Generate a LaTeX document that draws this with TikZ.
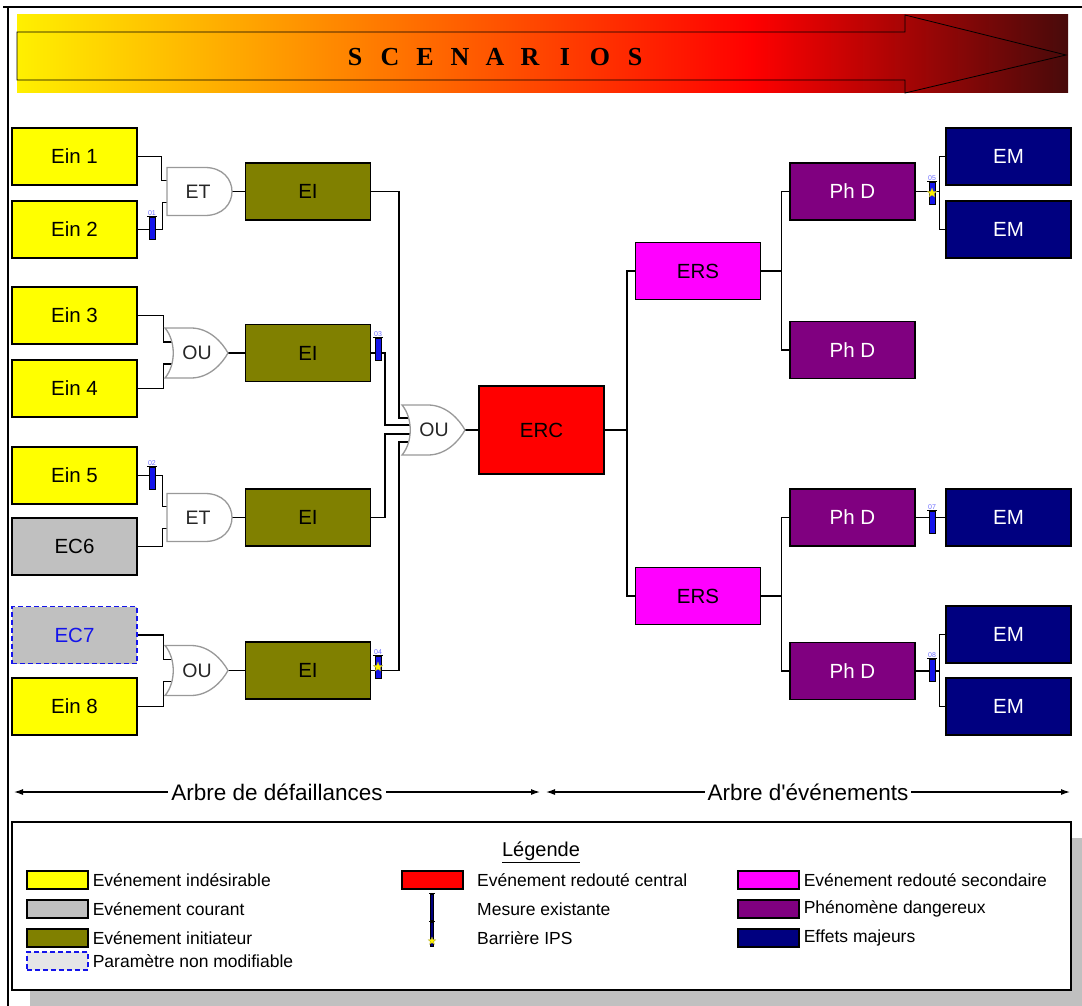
\documentclass[tikz,border=0pt]{standalone}
\usepackage{fontspec}
\setmainfont{Liberation Sans}
\newfontfamily\bannerserif{Liberation Serif}
\usetikzlibrary{shapes.geometric,arrows.meta,calc}

\definecolor{cYel}{RGB}{255,255,0}
\definecolor{cGray}{RGB}{192,192,192}
\definecolor{cLight}{RGB}{230,230,230}
\definecolor{cOlive}{RGB}{128,128,0}
\definecolor{cRed}{RGB}{255,0,0}
\definecolor{cMag}{RGB}{255,0,255}
\definecolor{cPur}{RGB}{128,0,128}
\definecolor{cNavy}{RGB}{0,0,128}
\definecolor{cBlue}{RGB}{20,20,235}
\definecolor{cBarLbl}{RGB}{110,110,255}
\definecolor{cBanA}{RGB}{255,240,0}
\definecolor{cBanB}{RGB}{255,160,0}
\definecolor{cBanC}{RGB}{255,0,0}
\definecolor{cBanD}{RGB}{72,10,10}

\pgfdeclarelayer{wires}
\pgfsetlayers{wires,main}

% AND gate: name, x of flat back, y of centre
\newcommand{\ETgate}[3]{%
  \coordinate (#1-in1) at (#2+4,#3-11);
  \coordinate (#1-in2) at (#2+4,#3+11);
  \coordinate (#1-out) at (#2+65,#3);
  \draw[gatebody] (#2,#3-24) -- (#2+38,#3-24)
     .. controls (#2+74,#3-24) and (#2+74,#3+24) .. (#2+38,#3+24)
     -- (#2,#3+24) -- cycle;
  \node[gatetext] (#1) at (#2+31,#3) {ET};
}
% OR gate: name, x of curved back, y of centre
\newcommand{\OUgate}[3]{%
  \coordinate (#1-in1) at (#2+9,#3-11);
  \coordinate (#1-in2) at (#2+9,#3+11);
  \coordinate (#1-out) at (#2+63,#3);
  \draw[gatebody] (#2,#3-25) -- (#2+26,#3-25)
     .. controls (#2+44,#3-25) and (#2+57,#3-11) .. (#2+63,#3)
     .. controls (#2+57,#3+11) and (#2+44,#3+25) .. (#2+26,#3+25)
     -- (#2,#3+25)
     .. controls (#2+11,#3+12) and (#2+11,#3-12) .. (#2,#3-25) -- cycle;
  \node[gatetext] (#1) at (#2+32,#3) {OU};
}
% existing safety measure: name, x, y, number
\newcommand{\safetybar}[4]{%
  \node[barrierbox] (#1) at (#2,#3) {};
  \draw[line width=1.2pt] ([xshift=-5pt]#1.north) -- ([xshift=5pt]#1.north);
  \node[barlabel] (#1-lbl) at ([yshift=1pt]#1.north) {#4};
}
% IPS barrier: same symbol with a star
\newcommand{\safetyips}[4]{%
  \safetybar{#1}{#2}{#3}{#4}%
  \node[ipsstar] (#1-star) at (#1.center) {};
}

\begin{document}
\begin{tikzpicture}[x=1pt,y=-1pt,
  wire/.style={draw=black,line width=1.5pt},
  evt/.style={draw=black,line width=1.3pt,minimum width=125pt,minimum height=57pt,
    inner sep=0pt,font=\fontsize{20.5}{23}\selectfont},
  undesired/.style={evt,fill=cYel},
  current/.style={evt,fill=cGray},
  fixedparam/.style={evt,fill=cGray,draw=cBlue,dash pattern=on 5pt off 3pt,text=cBlue},
  initiator/.style={evt,fill=cOlive},
  central/.style={evt,fill=cRed,minimum height=88pt},
  secondary/.style={evt,fill=cMag},
  hazard/.style={evt,fill=cPur,text=white},
  major/.style={evt,fill=cNavy,text=white},
  gatebody/.style={draw=black!40,fill=white,line width=1.3pt},
  gatetext/.style={font=\fontsize{19.5}{21}\selectfont,text=black!85,inner sep=0pt},
  barrierbox/.style={draw=black,fill=cBlue,line width=0.9pt,minimum width=6pt,
    minimum height=22pt,inner sep=0pt},
  barlabel/.style={anchor=south,font=\fontsize{7}{7}\selectfont,text=cBarLbl,inner sep=0pt},
  ipsstar/.style={star,star points=5,star point ratio=2.3,fill=yellow,draw=yellow!60!black,
    line width=0.3pt,minimum size=10pt,inner sep=0pt},
  swatch/.style={draw=black,line width=1.2pt,minimum width=61pt,minimum height=18pt,inner sep=0pt},
  legtext/.style={anchor=west,font=\fontsize{17.5}{19}\selectfont,inner sep=0pt},
  axislabel/.style={fill=white,font=\fontsize{22.5}{25}\selectfont,inner sep=3pt},
  axisarrow/.style={draw=black,line width=1.2pt,{Latex[length=9pt,width=6pt]}-{Latex[length=9pt,width=6pt]}},
  bannerletter/.style={font=\bannerserif\bfseries\fontsize{26}{28}\selectfont,inner sep=0pt}
]
\useasboundingbox (0,0) rectangle (1082,1006);

% page frame
\draw[line width=2.5pt] (3,7) -- (1082,7);
\draw[line width=1.5pt] (8,7) -- (8,1006);

% banner arrow
\shade[left color=cBanA,middle color=cBanB,right color=cBanC] (17,15) rectangle (752,93);
\shade[left color=cBanC,right color=cBanD] (751.5,15) rectangle (1068,93);
\draw[line width=0.8pt] (17,32) -- (905,32) -- (905,15) -- (1066,55) -- (905,93)
  -- (905,80) -- (17,80) -- cycle;
\foreach \l [count=\i from 0] in {S,C,E,N,A,R,I,O,S}
  \node[bannerletter] (sc\i) at (355+35*\i,57) {\l};

% fault tree leaves
\node[undesired]  (ein1) at (74.5,156.5) {Ein 1};
\node[undesired]  (ein2) at (74.5,229.5) {Ein 2};
\node[undesired]  (ein3) at (74.5,315.5) {Ein 3};
\node[undesired]  (ein4) at (74.5,388.5) {Ein 4};
\node[undesired]  (ein5) at (74.5,475.5) {Ein 5};
\node[current]    (ec6)  at (74.5,546.5) {EC6};
\node[fixedparam] (ec7)  at (74.5,635)   {EC7};
\node[undesired]  (ein8) at (74.5,706.5) {Ein 8};

% initiating events
\node[initiator] (ei1) at (308,191.5) {EI};
\node[initiator] (ei2) at (308,353)   {EI};
\node[initiator] (ei3) at (308,517.5) {EI};
\node[initiator] (ei4) at (308,670.5) {EI};

% central event and event tree
\node[central]   (erc)  at (541.5,430)  {ERC};
\node[secondary] (ers1) at (698,271)    {ERS};
\node[secondary] (ers2) at (698,596)    {ERS};
\node[hazard]    (phd1) at (852.5,191.5) {Ph D};
\node[hazard]    (phd2) at (852.5,350)   {Ph D};
\node[hazard]    (phd3) at (852.5,517.5) {Ph D};
\node[hazard]    (phd4) at (852.5,671)   {Ph D};
\node[major]     (em1)  at (1008.5,156.5) {EM};
\node[major]     (em2)  at (1008.5,229.5) {EM};
\node[major]     (em3)  at (1008.5,517.5) {EM};
\node[major]     (em4)  at (1008.5,634.5) {EM};
\node[major]     (em5)  at (1008.5,706.5) {EM};

% logic gates
\ETgate{g1}{167}{191.5}
\OUgate{g2}{165}{353}
\ETgate{g3}{167}{517.5}
\OUgate{g4}{165}{670.5}
\OUgate{gc}{402}{430}
\coordinate (gc-a) at (412,418);
\coordinate (gc-b) at (412,425);
\coordinate (gc-c) at (412,434);
\coordinate (gc-d) at (412,442);

% connectors
\begin{pgfonlayer}{wires}
  \draw[wire] (ein1.east) -- ++(24,0) |- (g1-in1);
  \draw[wire] (ein2.east) -- ++(25,0) |- (g1-in2);
  \draw[wire] (ein3.east) -- ++(26,0) |- (g2-in1);
  \draw[wire] (ein4.east) -- ++(26,0) |- (g2-in2);
  \draw[wire] (ein5.east) -- ++(25,0) |- (g3-in1);
  \draw[wire] (ec6.east)  -- ++(25,0) |- (g3-in2);
  \draw[wire] (ec7.east)  -- ++(26,0) |- (g4-in1);
  \draw[wire] (ein8.east) -- ++(26,0) |- (g4-in2);
  \draw[wire] (g1-out) -- (ei1.west);
  \draw[wire] (g2-out) -- (ei2.west);
  \draw[wire] (g3-out) -- (ei3.west);
  \draw[wire] (g4-out) -- (ei4.west);
  \draw[wire] (ei1.east) -- ++(28,0) |- (gc-a);
  \draw[wire] (ei2.east) -- ++(14,0) |- (gc-b);
  \draw[wire] (ei3.east) -- ++(14,0) |- (gc-c);
  \draw[wire] (ei4.east) -- ++(28,0) |- (gc-d);
  \draw[wire] (gc-out) -- (erc.west);
  \draw[wire] (ers1.west) -- ++(-8,0) |- (erc.east);
  \draw[wire] (ers2.west) -- ++(-8,0) |- (erc.east);
  \draw[wire] (phd1.west) -- ++(-8,0) |- (ers1.east);
  \draw[wire] (phd2.west) -- ++(-8,0) |- (ers1.east);
  \draw[wire] (phd3.west) -- ++(-8,0) |- (ers2.east);
  \draw[wire] (phd4.west) -- ++(-8,0) |- (ers2.east);
  \draw[wire] (em1.west) -- ++(-6,0) |- (phd1.east);
  \draw[wire] (em2.west) -- ++(-6,0) |- (phd1.east);
  \draw[wire] (phd3.east) -- (em3.west);
  \draw[wire] (em4.west) -- ++(-6,0) |- (phd4.east);
  \draw[wire] (em5.west) -- ++(-6,0) |- (phd4.east);
\end{pgfonlayer}

% safety barriers on the branches
\safetybar{b01}{152}{228}{01}
\safetybar{b02}{152}{478}{02}
\safetybar{b03}{378}{349}{03}
\safetyips{b04}{378}{667}{04}
\safetyips{b05}{932}{193}{05}
\safetybar{b07}{932}{522}{07}
\safetybar{b08}{932}{670}{08}

% tree extent arrows
\coordinate (fa-l) at (14,792);
\coordinate (fa-r) at (540,792);
\coordinate (ea-l) at (546,792);
\coordinate (ea-r) at (1070,792);
\draw[axisarrow] (fa-l) -- (fa-r) node[axislabel,midway] (fa-txt) {Arbre de défaillances};
\draw[axisarrow] (ea-l) -- (ea-r) node[axislabel,midway] (ea-txt) {Arbre d\textquotesingle événements};

% legend
\fill[cGray] (30,838) rectangle (1082,1006);
\node[draw=black,line width=1.2pt,fill=white,minimum width=1059pt,minimum height=168pt,
  inner sep=0pt] (legendbox) at (541.5,906) {};
\node[font=\fontsize{20}{22}\selectfont] (lgtitle) at (541,852) {\underline{Légende}};

\node[swatch,fill=cYel]  (sw1) at (57.5,880) {};
\node[legtext] (lt1) at ([xshift=4pt]sw1.east) {Evénement indésirable};
\node[swatch,fill=cGray] (sw2) at (57.5,909) {};
\node[legtext] (lt2) at ([xshift=4pt]sw2.east) {Evénement courant};
\node[swatch,fill=cOlive] (sw3) at (57.5,938) {};
\node[legtext] (lt3) at ([xshift=4pt]sw3.east) {Evénement initiateur};
\node[swatch,fill=cLight,draw=cBlue,dash pattern=on 5pt off 3pt] (sw4) at (57.5,961) {};
\node[legtext] (lt4) at ([xshift=4pt]sw4.east) {Paramètre non modifiable};

\node[swatch,fill=cRed] (sw5) at (432.5,880) {};
\node[legtext] (lt5) at (477,880) {Evénement redouté central};
\node[draw=black,fill=cNavy,line width=0.6pt,minimum width=3pt,minimum height=26pt,inner sep=0pt] (lbar1) at (432,907) {};
\draw[line width=1pt] ([xshift=-3pt]lbar1.north) -- ([xshift=3pt]lbar1.north);
\node[legtext] (lt6) at (477,909) {Mesure existante};
\node[draw=black,fill=cNavy,line width=0.6pt,minimum width=3pt,minimum height=24pt,inner sep=0pt] (lbar2) at (432,934) {};
\draw[line width=1pt] ([xshift=-3pt]lbar2.north) -- ([xshift=3pt]lbar2.north);
\node[ipsstar,minimum size=8pt] (lstar) at (432,941) {};
\node[legtext] (lt7) at (477,938) {Barrière IPS};

\node[swatch,fill=cMag] (sw8) at (768.5,880) {};
\node[legtext] (lt8) at ([xshift=4pt]sw8.east) {Evénement redouté secondaire};
\node[swatch,fill=cPur] (sw9) at (768.5,909) {};
\node[legtext] (lt9) at ([xshift=4pt]sw9.east) {Phénomène dangereux};
\node[swatch,fill=cNavy] (sw10) at (768.5,938) {};
\node[legtext] (lt10) at ([xshift=4pt]sw10.east) {Effets majeurs};
\end{tikzpicture}
\end{document}
